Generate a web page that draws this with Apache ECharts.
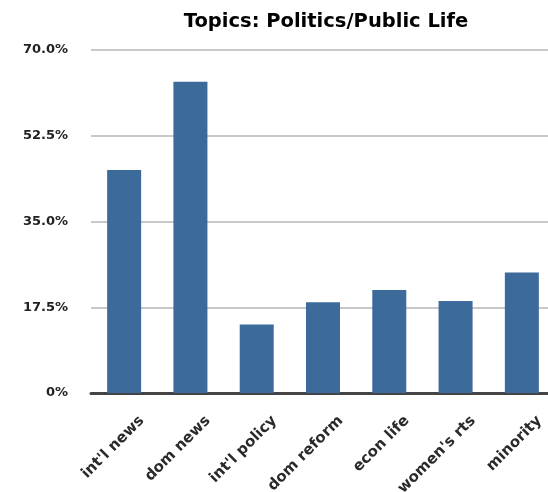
<!DOCTYPE html>
<html>
<head>
<meta charset="utf-8">
<script src="https://cdn.jsdelivr.net/npm/echarts@6/dist/echarts.min.js"></script>
<style>
  html, body { margin: 0; padding: 0; background: #fff; }
  #chart { width: 548px; height: 492px; }
</style>
</head>
<body>
<div id="chart"></div>
<script>
const chartTitle = 'Topics: Politics/Public Life';
const categories = ["int'l news", 'dom news', "int'l policy", 'dom reform', 'econ life', "women's rts", 'minority'];
const shares = [45.5, 63.5, 14.0, 18.5, 21.0, 18.8, 24.6];
const tickLabels = ['0%', '17.5%', '35.0%', '52.5%', '70.0%'];
const yMax = 70;
const yStep = 17.5;

const FONT = 'DejaVu Sans, Verdana, sans-serif';
const chart = echarts.init(document.getElementById('chart'), null, { renderer: 'canvas' });

chart.setOption({
  animation: false,
  backgroundColor: '#ffffff',
  title: {
    text: chartTitle,
    left: 321,
    textAlign: 'center',
    top: 7,
    textStyle: { fontFamily: FONT, fontWeight: 'bold', fontSize: 19.5, color: '#000' }
  },
  grid: { left: 91, top: 50, width: 464, height: 343, containLabel: false, outerBoundsMode: 'none' },
  xAxis: {
    type: 'category',
    data: categories,
    axisLine: { lineStyle: { color: '#444', width: 3 } },
    axisTick: { show: false },
    axisLabel: {
      rotate: 45,
      interval: 0,
      margin: 43,
      padding: [0, -25, 0, 0],
      fontFamily: FONT,
      fontWeight: 'bold',
      fontSize: 15,
      color: '#2a2a2a'
    }
  },
  yAxis: {
    type: 'value',
    min: 0,
    max: yMax,
    interval: yStep,
    axisLine: { show: false },
    axisTick: { show: false },
    splitLine: { lineStyle: { color: '#c8c8c8', width: 2 } },
    axisLabel: {
      margin: 23,
      fontFamily: FONT,
      fontWeight: 'bold',
      fontSize: 13,
      color: '#222',
      formatter: function (v) { return tickLabels[Math.round(v / yStep)]; }
    }
  },
  series: [{
    type: 'bar',
    data: shares,
    barWidth: 34,
    itemStyle: { color: '#3b6a9b' }
  }]
});
</script>
</body>
</html>
